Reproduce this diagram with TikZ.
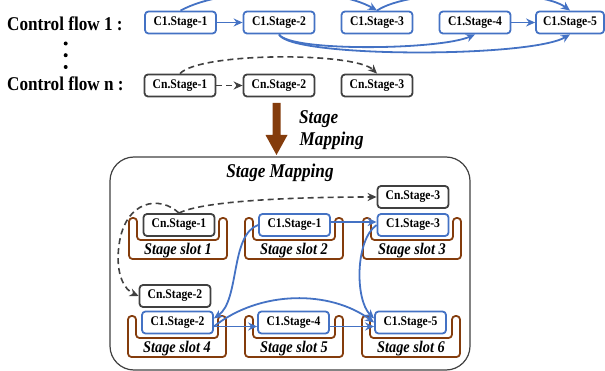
\documentclass[tikz,border=0pt]{standalone}
\usepackage{fontspec}
\setmainfont[FakeStretch=0.88]{Liberation Serif}
\usetikzlibrary{arrows.meta}
\definecolor{cblue}{HTML}{4472C4}
\definecolor{cgray}{HTML}{404040}
\definecolor{cbrown}{HTML}{843C0C}
\begin{document}
\begin{tikzpicture}[x=1pt,y=-1pt,
 stagebox/.style={draw, rounded corners=3.5pt, line width=1.8pt, fill=white, minimum width=71pt, minimum height=22pt, inner sep=0pt, font=\fontsize{13.2}{14}\bfseries\selectfont},
 c1box/.style={stagebox, draw=cblue},
 cnbox/.style={stagebox, draw=cgray},
 flowlabel/.style={font=\fontsize{19.5}{20}\bfseries\selectfont, anchor=base west, inner sep=0pt},
 bluearrow/.style={draw=cblue, line width=1.8pt, -{Stealth[length=9pt,width=8pt]}},
 dasharrow/.style={draw=cgray, line width=1.6pt, dash pattern=on 6pt off 4pt, -{Stealth[length=9pt,width=8pt]}},
 slotlabel/.style={font=\fontsize{16.3}{17}\bfseries\itshape\selectfont, inner sep=0pt, anchor=base},
 biglabel/.style={font=\fontsize{19.5}{20}\bfseries\itshape\selectfont, inner sep=0pt},
 slotshape/.pic={\draw[cbrown, line width=1.8pt, rounded corners=3.5pt] (-49,0) -- (-49,41) -- (49,41) -- (49,0) -- (41,0) -- (41,22) -- (-41,22) -- (-41,0) -- cycle;},
]
\useasboundingbox (0,0) rectangle (605,371);
\clip (0,0) rectangle (605,371);

% labels on the left
\node[flowlabel] (lab1) at (7,30.5) {Control flow 1 :};
\node[flowlabel] (labn) at (7,91) {Control flow n :};
\fill[black] (65.7,43.5) circle (2) (65.7,55.2) circle (2) (65.7,67) circle (2);

% control flow 1
\node[c1box] (a1) at (180.5,22.5) {C1.Stage-1};
\node[c1box] (a2) at (279,22.5) {C1.Stage-2};
\node[c1box] (a3) at (377,22.5) {C1.Stage-3};
\node[c1box] (a4) at (475,22.5) {C1.Stage-4};
\node[c1box, minimum width=68pt] (a5) at (570,22.5) {C1.Stage-5};
\draw[bluearrow] (a1) -- (a2);
\draw[bluearrow] (a4) -- (a5);
\draw[bluearrow] (a1.north) .. controls (225,-14) and (335,-14) .. (a3.north);
\draw[bluearrow] (a3.north) .. controls (410,-12) and (540,-12) .. (a5.north);
\draw[bluearrow] (a2.south) .. controls (290,52) and (440,50) .. (a4.south);
\draw[bluearrow] (a2.south) .. controls (290,58) and (530,58) .. (a5.south);

% control flow n
\node[cnbox] (b1) at (180,85.5) {Cn.Stage-1};
\node[cnbox] (b2) at (279,85.5) {Cn.Stage-2};
\node[cnbox] (b3) at (377,85.5) {Cn.Stage-3};
\draw[dasharrow] (b1) -- (b2);
\draw[dasharrow] (b1.north) .. controls (200,52) and (355,52) .. (b3.north);

% big arrow
\fill[cbrown] (272.5,103) -- (280.5,103) -- (280.5,135) -- (287.5,135) -- (276.5,155) -- (265.5,135) -- (272.5,135) -- cycle;
\node[biglabel, anchor=base west] (sm1) at (299,123.5) {Stage};
\node[biglabel, anchor=base west] (sm2) at (299.5,145.5) {Mapping};

% mapping box
\draw[cgray, line width=1.2pt, rounded corners=24pt] (110,157) rectangle (470,370);
\node[biglabel, anchor=base] (title) at (280,178) {Stage Mapping};

% slots
\pic at (178,218) {slotshape};
\pic at (294,218) {slotshape};
\pic at (412,218) {slotshape};
\pic at (177,316) {slotshape};
\pic at (294,316) {slotshape};
\pic at (411,316) {slotshape};
\node[slotlabel] (sl1) at (178,255) {Stage slot 1};
\node[slotlabel] (sl2) at (294,255) {Stage slot 2};
\node[slotlabel] (sl3) at (412,255) {Stage slot 3};
\node[slotlabel] (sl4) at (177,352.5) {Stage slot 4};
\node[slotlabel] (sl5) at (294,352.5) {Stage slot 5};
\node[slotlabel] (sl6) at (411,352.5) {Stage slot 6};

% mapped stages
\node[cnbox] (m1) at (179,225) {Cn.Stage-1};
\node[c1box] (m2) at (294.5,225) {C1.Stage-1};
\node[c1box] (m3) at (413,225) {C1.Stage-3};
\node[cnbox] (m4) at (413,197) {Cn.Stage-3};
\node[cnbox] (m5) at (175,296) {Cn.Stage-2};
\node[c1box] (m6) at (177.5,322.5) {C1.Stage-2};
\node[c1box] (m7) at (293.5,322.5) {C1.Stage-4};
\node[c1box] (m8) at (410.5,322.5) {C1.Stage-5};

\draw[bluearrow] ([yshift=3pt]m2.east) -- ([yshift=3pt]m3.west);
\draw[bluearrow] (m2.west) .. controls (230,235) and (240,300) .. ([yshift=4pt]m6.east);
\draw[bluearrow] (m3.west) .. controls (355,240) and (355,300) .. ([yshift=4pt]m8.west);
\draw[bluearrow] ([yshift=-4pt]m6.east) .. controls (260,290) and (330,290) .. (m8.west);
\draw[bluearrow] ([yshift=-4pt]m6.east) -- ([yshift=-4pt]m7.west);
\draw[bluearrow] ([yshift=-4pt]m7.east) -- ([yshift=-4pt]m8.west);

\draw[dasharrow] (m1.north) .. controls (200,202) and (280,197) .. (m4.west);
\draw[dasharrow] (m1.north) .. controls (160,195) and (125,200) .. (119,245) .. controls (115,275) and (125,290) .. (m5.west);
\end{tikzpicture}
\end{document}
